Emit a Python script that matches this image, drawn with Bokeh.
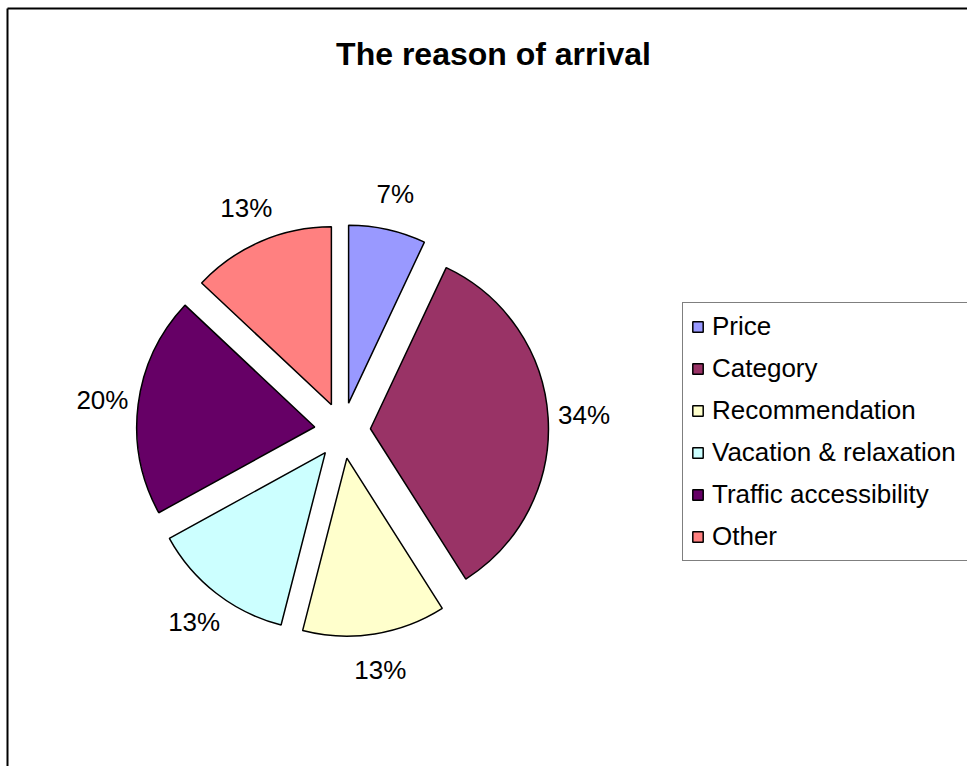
import numpy as np
from bokeh.plotting import figure
from bokeh.models import ColumnDataSource, Range1d, Label, Legend, LegendItem
from bokeh.core.properties import value
from bokeh.embed import file_html
from bokeh.resources import INLINE

# ---- data ----
title_text = "The reason of arrival"
categories = ["Price", "Category", "Recommendation", "Vacation & relaxation",
              "Traffic accessibility", "Other"]
shares = [7, 34, 13, 13, 20, 13]
colors = ["#9999FF", "#993366", "#FFFFCC", "#CCFFFF", "#660066", "#FF8080"]

# ---- layout (pixels, y measured upward from bottom of page) ----
W, H = 967, 766
cx, cy = 342, 336
radius = 178
explode = 28
label_r = 242
FONT = "Liberation Sans"

vals = np.array(shares, dtype=float)
frac = vals / vals.sum()
cum = np.concatenate([[0.0], np.cumsum(frac)])
start = np.pi / 2 - 2 * np.pi * cum[:-1]
end = np.pi / 2 - 2 * np.pi * cum[1:]
mid = (start + end) / 2

src = ColumnDataSource(dict(
    cat=categories,
    x=cx + explode * np.cos(mid),
    y=cy + explode * np.sin(mid),
    start=start, end=end, color=colors,
    lx=cx + label_r * np.cos(mid),
    ly=cy + label_r * np.sin(mid),
    lab=[f"{round(f * 100)}%" for f in frac],
))

p = figure(width=W, height=H, x_range=Range1d(0, W), y_range=Range1d(0, H),
           output_backend="svg", toolbar_location=None, min_border=0,
           x_axis_type=None, y_axis_type=None, outline_line_color=None)
p.grid.visible = False
p.background_fill_color = "white"
p.border_fill_color = "white"

# chart area border (only top and left edges fall inside the window)
bx, by = 7, H - 8
p.segment(x0=[bx, bx], y0=[by, by], x1=[W, bx], y1=[by, 0],
          line_color="black", line_width=2)

wr = p.wedge(x="x", y="y", radius=radius, start_angle="start", end_angle="end",
             direction="clock", fill_color="color", line_color="black",
             line_width=1.5, source=src)

p.text(x="lx", y="ly", text="lab", source=src, text_align="center",
       text_baseline="middle", text_font=value(FONT), text_font_size="26px",
       text_color="black")

p.add_layout(Label(x=493, y=H - 53, text=title_text, text_align="center",
                   text_baseline="middle", text_font=FONT, text_font_size="32px",
                   text_font_style="bold", text_color="black"))

legend = Legend(
    items=[LegendItem(label=c, renderers=[wr], index=i) for i, c in enumerate(categories)],
    location=(682, 205), margin=0, padding=8, spacing=11,
    glyph_width=13, glyph_height=13, label_standoff=8, label_width=262,
    label_text_font=FONT, label_text_font_size="26px", label_text_color="black",
    border_line_color="black", border_line_width=1,
    background_fill_color="white", background_fill_alpha=1.0,
)
p.add_layout(legend)

open("out.html", "w").write(file_html(p, INLINE))
